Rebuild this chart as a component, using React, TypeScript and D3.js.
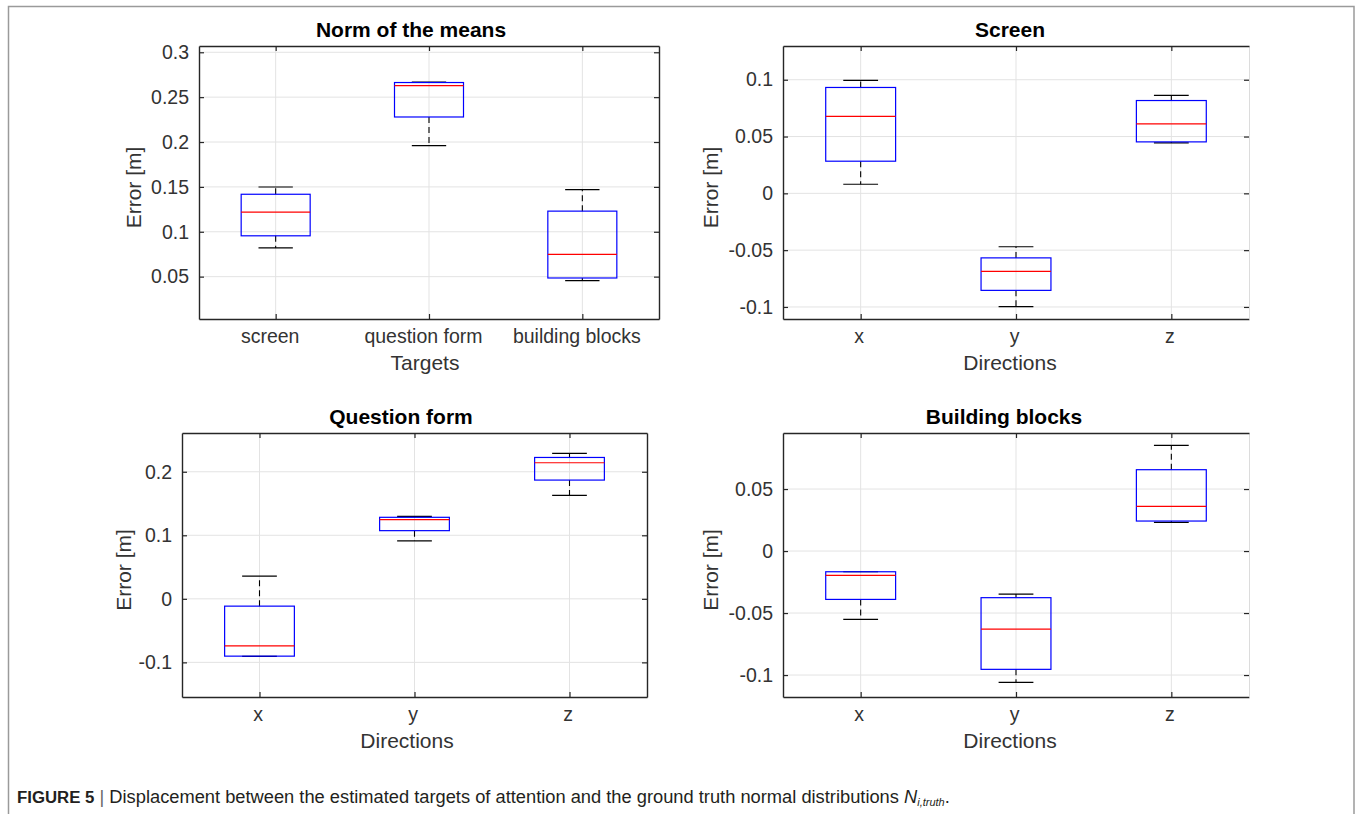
import React, { useEffect, useRef } from 'react';
import * as d3 from 'd3';

// categories
const targetCats = ['screen', 'question form', 'building blocks'];
const directionCats = ['x', 'y', 'z'];

// box stats per category: [lower whisker, Q1, median, Q3, upper whisker]
const normStats = [
  [0.082, 0.0955, 0.1219, 0.1418, 0.1499],
  [0.1959, 0.2279, 0.2629, 0.2663, 0.2669],
  [0.0455, 0.0485, 0.0749, 0.123, 0.147],
];
const screenStats = [
  [0.008, 0.0283, 0.0677, 0.0932, 0.0994],
  [-0.0997, -0.0854, -0.0686, -0.0568, -0.047],
  [0.0444, 0.0453, 0.0612, 0.0817, 0.0862],
];
const questionStats = [
  [-0.0907, -0.0902, -0.0739, -0.0115, 0.0357],
  [0.0911, 0.1073, 0.1246, 0.1283, 0.1299],
  [0.1628, 0.1869, 0.2142, 0.2225, 0.2288],
];
const blocksStats = [
  [-0.0551, -0.039, -0.0196, -0.0167, -0.0167],
  [-0.1059, -0.0954, -0.0629, -0.0376, -0.0347],
  [0.0231, 0.0242, 0.036, 0.0656, 0.0852],
];

// y ticks and limits
const normTicks = [0.05, 0.1, 0.15, 0.2, 0.25, 0.3];
const normDomain = [0.0028, 0.307];
const screenTicks = [-0.1, -0.05, 0, 0.05, 0.1];
const screenDomain = [-0.1106, 0.1297];
const questionTicks = [-0.1, 0, 0.1, 0.2];
const questionDomain = [-0.1545, 0.261];
const blocksTicks = [-0.1, -0.05, 0, 0.05];
const blocksDomain = [-0.1177, 0.0952];

const W = 1359;
const H = 814;
const FONT = '"Liberation Sans", Arial, Helvetica, sans-serif';
const AX = '#262626';

const panels = [
  { title: 'Norm of the means', cats: targetCats, stats: normStats, ticks: normTicks, domain: normDomain, xLabel: 'Targets',
    box: { l: 199, r: 659, t: 46, b: 319 }, titleX: 411, xLabelX: 425, yLabelX: 141, rightLine: true, labelShift: -6 },
  { title: 'Screen', cats: directionCats, stats: screenStats, ticks: screenTicks, domain: screenDomain, xLabel: 'Directions',
    box: { l: 783, r: 1249, t: 46, b: 319 }, titleX: 1010, xLabelX: 1010, yLabelX: 718, rightLine: false, labelShift: -2 },
  { title: 'Question form', cats: directionCats, stats: questionStats, ticks: questionTicks, domain: questionDomain, xLabel: 'Directions',
    box: { l: 182, r: 647, t: 433, b: 697 }, titleX: 401, xLabelX: 407, yLabelX: 131, rightLine: true, labelShift: -2 },
  { title: 'Building blocks', cats: directionCats, stats: blocksStats, ticks: blocksTicks, domain: blocksDomain, xLabel: 'Directions',
    box: { l: 783, r: 1249, t: 433, b: 697 }, titleX: 1004, xLabelX: 1010, yLabelX: 718, rightLine: false, labelShift: -2 },
];

const BoxPanels = () => {
  const svgRef = useRef<SVGSVGElement>(null);

  useEffect(() => {
    document.body.style.margin = '0';
    document.body.style.overflow = 'hidden';

    const svg = d3.select(svgRef.current);
    svg.selectAll('*').remove();

    svg.append('rect').attr('width', W).attr('height', H).attr('fill', '#fff');

    // figure frame (open at the bottom)
    svg.append('path')
      .attr('d', `M8.5,${H}V6.5H1354V${H}`)
      .attr('fill', 'none')
      .attr('stroke', '#9a9a9a')
      .attr('stroke-width', 1.5);

    panels.forEach(p => {
      const { l, r, t, b } = p.box;
      const x = d3.scaleLinear().domain([0.5, p.cats.length + 0.5]).range([l, r]);
      const y = d3.scaleLinear().domain(p.domain).range([b, t]);
      const idx = p.cats.map((_, i) => i + 1);
      const g = svg.append('g');

      // grid
      g.selectAll('.gy').data(p.ticks).join('line')
        .attr('x1', l).attr('x2', r)
        .attr('y1', d => y(d)).attr('y2', d => y(d))
        .attr('stroke', '#e3e3e3');
      g.selectAll('.gx').data(idx).join('line')
        .attr('x1', d => x(d)).attr('x2', d => x(d))
        .attr('y1', t).attr('y2', b)
        .attr('stroke', '#e3e3e3');

      // axes, ticks pointing inwards on all four sides
      const left = g.append('g').attr('transform', `translate(${l},0)`)
        .call(d3.axisLeft(y).tickValues(p.ticks).tickSizeInner(-5).tickSizeOuter(0).tickPadding(10).tickFormat(d => String(d)));
      const bottom = g.append('g').attr('transform', `translate(0,${b})`)
        .call(d3.axisBottom(x).tickValues(idx).tickSizeInner(-5).tickSizeOuter(0).tickPadding(21).tickFormat(d => p.cats[+d - 1]));
      const right = g.append('g').attr('transform', `translate(${r},0)`)
        .call(d3.axisRight(y).tickValues(p.ticks).tickSizeInner(-5).tickSizeOuter(0).tickFormat(() => ''));
      const top = g.append('g').attr('transform', `translate(0,${t})`)
        .call(d3.axisTop(x).tickValues(idx).tickSizeInner(-5).tickSizeOuter(0).tickFormat(() => ''));

      [left, bottom, right, top].forEach(a => {
        a.selectAll('path').attr('stroke', AX).attr('stroke-width', 1.4);
        a.selectAll('line').attr('stroke', AX).attr('stroke-width', 1.2);
        a.selectAll('text').attr('fill', '#333').attr('font-family', FONT).attr('font-size', 19.5);
      });
      bottom.selectAll('text').attr('dy', null).attr('y', 24).attr('dx', p.labelShift);
      if (!p.rightLine) right.select('path').attr('stroke', '#dcdcdc').attr('stroke-width', 1);

      // boxes
      const halfBox = 0.225;
      const halfCap = 0.112;
      const boxes = g.selectAll('.bx').data(p.stats).join('g');

      boxes.append('line')
        .attr('x1', (_, i) => x(i + 1)).attr('x2', (_, i) => x(i + 1))
        .attr('y1', d => y(d[3])).attr('y2', d => y(d[4]))
        .attr('stroke', '#000').attr('stroke-width', 1.1).attr('stroke-dasharray', '6,4');
      boxes.append('line')
        .attr('x1', (_, i) => x(i + 1)).attr('x2', (_, i) => x(i + 1))
        .attr('y1', d => y(d[1])).attr('y2', d => y(d[0]))
        .attr('stroke', '#000').attr('stroke-width', 1.1).attr('stroke-dasharray', '6,4');
      [0, 4].forEach(k => {
        boxes.append('line')
          .attr('x1', (_, i) => x(i + 1 - halfCap)).attr('x2', (_, i) => x(i + 1 + halfCap))
          .attr('y1', d => y(d[k])).attr('y2', d => y(d[k]))
          .attr('stroke', '#000').attr('stroke-width', 1.2);
      });
      boxes.append('rect')
        .attr('x', (_, i) => x(i + 1 - halfBox))
        .attr('width', (_, i) => x(i + 1 + halfBox) - x(i + 1 - halfBox))
        .attr('y', d => y(d[3]))
        .attr('height', d => y(d[1]) - y(d[3]))
        .attr('fill', 'none').attr('stroke', '#0000ff').attr('stroke-width', 1.2);
      boxes.append('line')
        .attr('x1', (_, i) => x(i + 1 - halfBox)).attr('x2', (_, i) => x(i + 1 + halfBox))
        .attr('y1', d => y(d[2])).attr('y2', d => y(d[2]))
        .attr('stroke', '#ff0000').attr('stroke-width', 1.2);

      // labels
      g.append('text')
        .attr('x', p.titleX).attr('y', t - 9)
        .attr('text-anchor', 'middle')
        .attr('font-family', FONT).attr('font-size', 21).attr('font-weight', 'bold')
        .attr('fill', '#000')
        .text(p.title);
      g.append('text')
        .attr('x', p.xLabelX).attr('y', b + 51)
        .attr('text-anchor', 'middle')
        .attr('font-family', FONT).attr('font-size', 21)
        .attr('fill', '#333')
        .text(p.xLabel);
      g.append('text')
        .attr('transform', `translate(${p.yLabelX},${(t + b) / 2 + 5}) rotate(-90)`)
        .attr('text-anchor', 'middle')
        .attr('font-family', FONT).attr('font-size', 21)
        .attr('fill', '#333')
        .text('Error [m]');
    });

    // caption
    const cap = svg.append('text')
      .attr('x', 17).attr('y', 803)
      .attr('font-family', FONT).attr('font-size', 18.3)
      .attr('fill', '#231f20');
    cap.append('tspan').attr('font-weight', 'bold').attr('font-size', 16.8).text('FIGURE 5');
    cap.append('tspan').attr('fill', '#666').text(' | ');
    cap.append('tspan').text('Displacement between the estimated targets of attention and the ground truth normal distributions ');
    cap.append('tspan').attr('font-style', 'italic').text('N');
    cap.append('tspan').attr('font-style', 'italic').attr('font-size', 11).attr('dy', 3).text('i,truth');
    cap.append('tspan').attr('dy', -3).text('.');
  }, []);

  return <svg ref={svgRef} width={W} height={H} style={{ display: 'block' }}></svg>;
};

export default function App() {
  return <BoxPanels />;
}
